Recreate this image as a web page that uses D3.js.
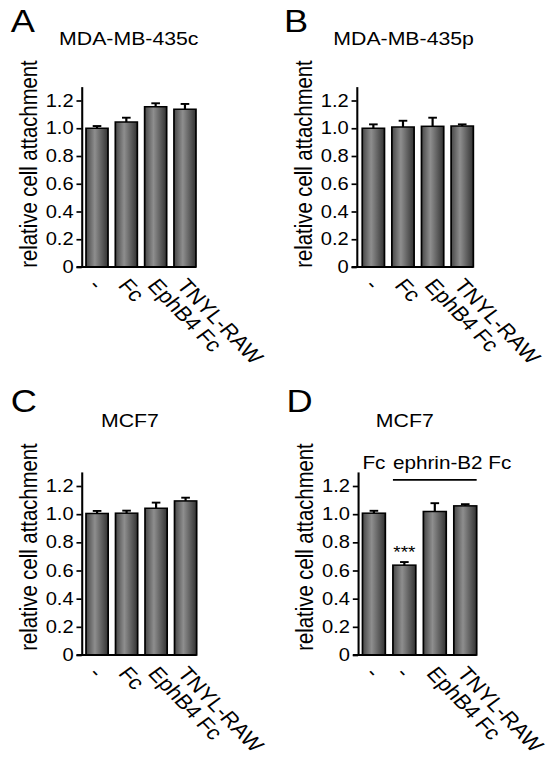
<!DOCTYPE html>
<html><head><meta charset="utf-8">
<script src="https://cdn.jsdelivr.net/npm/d3@7"></script>
<style>
html,body{margin:0;padding:0;background:#fff;}
text{font-family:"Liberation Sans",Arial,Helvetica,sans-serif;fill:#000;}
</style></head>
<body>
<script>
// ---------- data ----------
const categoriesABC = ["-", "Fc", "EphB4 Fc", "TNYL-RAW"];
const categoriesD = ["-", "-", "EphB4 Fc", "TNYL-RAW"];
const panelLetters = ["A", "B", "C", "D"];
const panelTitles = ["MDA-MB-435c", "MDA-MB-435p", "MCF7", "MCF7"];
const valuesA = [1.000, 1.045, 1.155, 1.137];
const errorsA = [0.016, 0.031, 0.025, 0.038];
const valuesB = [1.000, 1.009, 1.014, 1.016];
const errorsB = [0.028, 0.045, 0.062, 0.012];
const valuesC = [1.005, 1.007, 1.042, 1.094];
const errorsC = [0.018, 0.018, 0.040, 0.023];
const valuesD = [1.007, 0.638, 1.019, 1.059];
const errorsD = [0.017, 0.022, 0.059, 0.012];
const yTickValues = [0, 0.2, 0.4, 0.6, 0.8, 1.0, 1.2];
const yTickLabels = ["0", "0.2", "0.4", "0.6", "0.8", "1.0", "1.2"];
const yAxisLabel = "relative cell attachment";
const significanceD = ["", "***", "", ""];
const groupLabelsD = ["Fc", "ephrin-B2 Fc"];

// ---------- layout (virtual coords; whole figure is stretched horizontally) ----------
const SX = 1.15;
const W = 551, H = 758;
const layout = [
  {axisX: 71,    bx0: 74.8,  bx1: 170.4, y0: 267, y12: 100.5, letterY: 32,  titleY: 45,  labelY: 164},
  {axisX: 310.2, bx0: 315.0, bx1: 411.6, y0: 267, y12: 100.5, letterY: 32,  titleY: 45,  labelY: 164},
  {axisX: 71,    bx0: 74.8,  bx1: 171.0, y0: 655, y12: 486,   letterY: 412, titleY: 427, labelY: 547},
  {axisX: 311.3, bx0: 315.2, bx1: 414.5, y0: 655, y12: 486,   letterY: 412, titleY: 427, labelY: 547}
];
const letterX = [9.4, 247.0, 9.4, 249.1];
const titleCX = [112, 351, 113, 352];

const panelData = [
  {cats: categoriesABC, vals: valuesA, errs: errorsA},
  {cats: categoriesABC, vals: valuesB, errs: errorsB},
  {cats: categoriesABC, vals: valuesC, errs: errorsC},
  {cats: categoriesD,   vals: valuesD, errs: errorsD}
];

const svg = d3.select("body").append("svg").attr("width", W).attr("height", H);
const defs = svg.append("defs");
const grad = defs.append("linearGradient").attr("id", "barGrad")
  .attr("x1", "0%").attr("x2", "100%").attr("y1", "0%").attr("y2", "0%");
grad.append("stop").attr("offset", "0%").attr("stop-color", "#474747");
grad.append("stop").attr("offset", "40%").attr("stop-color", "#8e8e8e");
grad.append("stop").attr("offset", "100%").attr("stop-color", "#333333");

const root = svg.append("g").attr("transform", `scale(${SX},1)`);

function drawPanel(idx) {
  const L = layout[idx], D = panelData[idx];
  const g = root.append("g");
  const yTop = L.y0 - (L.y0 - L.y12) * 1.3 / 1.2;
  const y = d3.scaleLinear().domain([0, 1.3]).range([L.y0, yTop]);
  const x = d3.scaleBand().domain(d3.range(D.vals.length)).range([L.bx0, L.bx1])
    .paddingInner(0.25).paddingOuter(0);
  const bw = x.bandwidth();

  // y axis
  const ax = g.append("g").attr("transform", `translate(${L.axisX},0)`)
    .call(d3.axisLeft(y).tickValues(yTickValues).tickSize(4.5).tickSizeOuter(0).tickPadding(2.5)
      .tickFormat((d, i) => yTickLabels[i]));
  ax.select(".domain").attr("stroke", "#000").attr("stroke-width", 1.8);
  ax.selectAll(".tick line").attr("stroke", "#000").attr("stroke-width", 1.7);
  ax.selectAll(".tick text").attr("font-size", 17.5).attr("font-family", "Liberation Sans, Arial, sans-serif").attr("fill", "#000");

  // bars
  g.selectAll("rect.bar").data(D.vals).enter().append("rect")
    .attr("class", "bar")
    .attr("x", (d, i) => x(i))
    .attr("y", d => y(d))
    .attr("width", bw)
    .attr("height", d => y(0) - y(d))
    .attr("fill", "url(#barGrad)")
    .attr("stroke", "#000").attr("stroke-width", 1.5);

  // error bars (upper)
  const cw = 7.5;
  D.vals.forEach((v, i) => {
    const cx = x(i) + bw / 2;
    g.append("line").attr("x1", cx).attr("x2", cx).attr("y1", y(v)).attr("y2", y(v + D.errs[i]))
      .attr("stroke", "#000").attr("stroke-width", 1.9);
    g.append("line").attr("x1", cx - cw / 2).attr("x2", cx + cw / 2)
      .attr("y1", y(v + D.errs[i])).attr("y2", y(v + D.errs[i]))
      .attr("stroke", "#000").attr("stroke-width", 1.9);
  });

  // x axis baseline
  g.append("line").attr("x1", L.axisX - 4.5).attr("x2", L.bx1)
    .attr("y1", y(0)).attr("y2", y(0)).attr("stroke", "#000").attr("stroke-width", 1.9);

  // x category labels, rotated
  D.cats.forEach((c, i) => {
    const cx = x(i) + bw / 2;
    g.append("text").attr("transform", `translate(${cx - 8},${y(0) + 19}) rotate(50)`)
      .attr("font-size", 20).attr("text-anchor", "start").text(c);
  });

  // panel letter
  g.append("text").attr("x", letterX[idx]).attr("y", L.letterY).attr("font-size", 31.5).text(panelLetters[idx]);
  // title
  g.append("text").attr("x", titleCX[idx]).attr("y", L.titleY).attr("font-size", 18.5)
    .attr("text-anchor", "middle").text(panelTitles[idx]);
  // y label
  g.append("text").attr("transform", `translate(${L.axisX - 38.8},${L.labelY}) rotate(-90)`)
    .attr("font-size", 20.3).attr("text-anchor", "middle").text(yAxisLabel);

  return {g, x, y, bw};
}

const panels = [0, 1, 2, 3].map(drawPanel);

// Panel D extras
{
  const {g, x, y, bw} = panels[3];
  significanceD.forEach((s, i) => {
    if (!s) return;
    g.append("text").attr("x", x(i) + bw / 2).attr("y", y(valuesD[i] + errorsD[i]) - 4.5)
      .attr("font-size", 16.5).attr("text-anchor", "middle").text(s);
  });
  const lineY = y(1.3) + 8;
  g.append("line").attr("x1", x(1)).attr("x2", x(3) + bw).attr("y1", lineY).attr("y2", lineY)
    .attr("stroke", "#000").attr("stroke-width", 1.7);
  g.append("text").attr("x", x(0) + bw / 2).attr("y", lineY - 10.7).attr("font-size", 18)
    .attr("text-anchor", "middle").text(groupLabelsD[0]);
  g.append("text").attr("x", x(1)).attr("y", lineY - 10.7).attr("font-size", 18)
    .attr("text-anchor", "start").text(groupLabelsD[1]);
}
</script>
</body></html>
